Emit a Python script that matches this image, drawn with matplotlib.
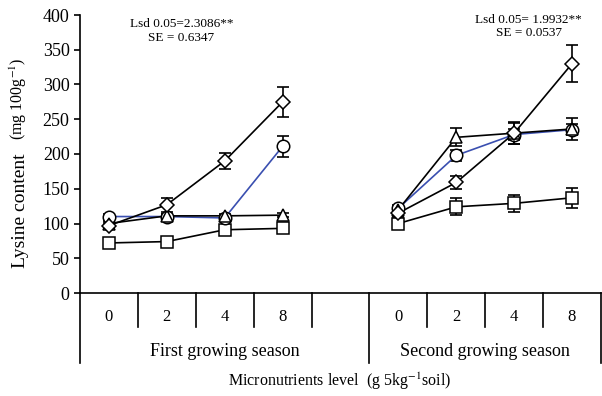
import matplotlib
matplotlib.use('Agg')
import matplotlib.pyplot as plt

plt.rcParams['font.family'] = ['Liberation Serif', 'DejaVu Serif']
plt.rcParams['mathtext.fontset'] = 'stix'

levels = ['0', '2', '4', '8']
seasons = ['First growing season', 'Second growing season']

# first season
s1_square = [72, 74, 91, 93]
s1_square_err = [3, 3, 4, 4]
s1_triangle = [100, 111, 111, 112]
s1_triangle_err = [3, 3, 3, 3]
s1_circle = [110, 110, 108, 211]
s1_circle_err = [3, 3, 4, 15]
s1_diamond = [97, 127, 190, 275]
s1_diamond_err = [4, 10, 12, 22]

# second season
s2_square = [100, 124, 129, 137]
s2_square_err = [6, 12, 12, 14]
s2_triangle = [120, 224, 230, 236]
s2_triangle_err = [5, 13, 16, 16]
s2_circle = [122, 198, 228, 235]
s2_circle_err = [4, 8, 8, 8]
s2_diamond = [115, 159, 230, 330]
s2_diamond_err = [5, 10, 15, 27]

lsd_text = ['Lsd 0.05=2.3086**\nSE = 0.6347', 'Lsd 0.05= 1.9932**\nSE = 0.0537']

x1 = [0.5, 1.5, 2.5, 3.5]
x2 = [5.5, 6.5, 7.5, 8.5]

fig = plt.figure(figsize=(6.02, 3.96), dpi=100)
ax = fig.add_axes([80/602, 103/396, 521/602, 278/396])

blue = '#3a4fb0'
series = [
    ('s', s1_square, s1_square_err, s2_square, s2_square_err, 'black'),
    ('o', s1_circle, s1_circle_err, s2_circle, s2_circle_err, blue),
    ('^', s1_triangle, s1_triangle_err, s2_triangle, s2_triangle_err, 'black'),
    ('D', s1_diamond, s1_diamond_err, s2_diamond, s2_diamond_err, 'black'),
]
for k, (marker, v1, e1, v2, e2, lc) in enumerate(series):
    ms = 7 if marker == 'D' else 9
    for xs, vs, es in [(x1, v1, e1), (x2, v2, e2)]:
        ax.errorbar(xs, vs, yerr=es, fmt='none', ecolor='black', elinewidth=1.2,
                    capsize=4, capthick=1.2, zorder=2)
        ax.plot(xs, vs, color=lc, lw=1.2, zorder=2)
        ax.plot(xs, vs, linestyle='none', marker=marker, ms=ms, mfc='white',
                mec='black', mew=1.1, zorder=3 + k)

ax.set_xlim(0, 9)
ax.set_ylim(0, 400)
ax.set_yticks(range(0, 401, 50))
ax.tick_params(axis='y', labelsize=13, length=4, width=1.2, direction='out')
ax.set_xticks([])
for s in ['top', 'right']:
    ax.spines[s].set_visible(False)
ax.spines['left'].set_linewidth(1.2)
ax.spines['bottom'].set_linewidth(1.2)

trans = ax.get_xaxis_transform()
# category dividers
for xb in [1, 2, 3, 4, 6, 7, 8]:
    ax.plot([xb, xb], [0, -0.122], transform=trans, color='black', lw=1.2, clip_on=False)
for xb in [0, 5, 9]:
    ax.plot([xb, xb], [0, -0.252], transform=trans, color='black', lw=1.2, clip_on=False)
for xs in [x1, x2]:
    for xi, lab in zip(xs, levels):
        ax.text(xi, -0.088, lab, transform=trans, ha='center', va='center', fontsize=12)
ax.text(2.5, -0.212, seasons[0], transform=trans, ha='center', va='center', fontsize=13)
ax.text(7.0, -0.212, seasons[1], transform=trans, ha='center', va='center', fontsize=13)

ax.text(1.75, 395, lsd_text[0], ha='center', va='top', fontsize=9.5, linespacing=1.15)
ax.text(7.75, 402, lsd_text[1], ha='center', va='top', fontsize=9.5, linespacing=1.15,
        clip_on=False)

fig.text(21/602, 1 - 211/396, 'Lysine content', rotation=90, ha='center',
         va='center', fontsize=14)
fig.text(18/602, 1 - 99/396, '(mg 100g$^{-1}$)', rotation=90, ha='center',
         va='center', fontsize=11.5)
fig.text(340/602, 1 - 381/396, 'Micronutrients level  (g 5kg$^{-1}$soil)', ha='center',
         va='center', fontsize=11.5)

fig.savefig('out.png', dpi=100)
